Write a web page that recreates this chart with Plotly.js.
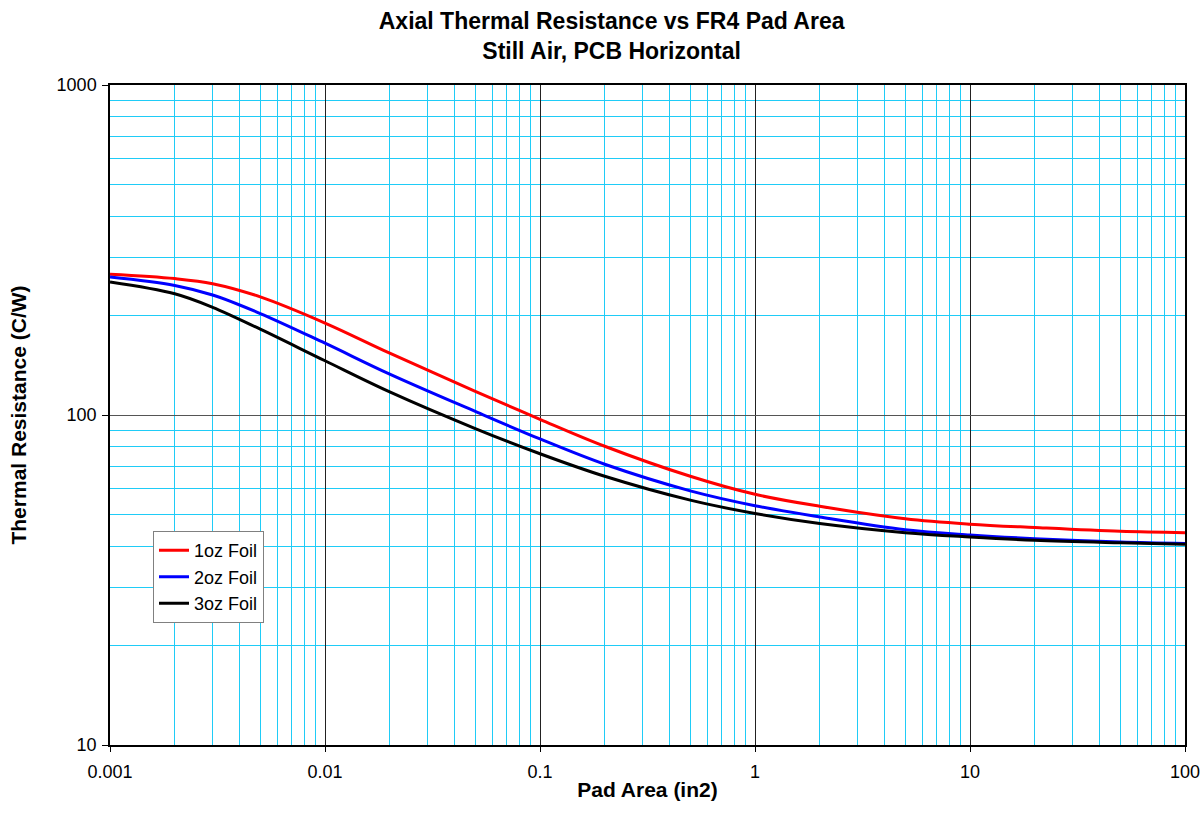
<!DOCTYPE html>
<html>
<head>
<meta charset="utf-8">
<script src="https://cdn.plot.ly/plotly-3.0.1.min.js"></script>
<style>html,body{margin:0;padding:0;background:#fff;}#chart{width:1204px;height:828px;}</style>
</head>
<body>
<div id="chart"></div>
<script>
const padArea = [0.001,0.002,0.003,0.005,0.01,0.02,0.05,0.1,0.2,0.5,1,2,5,10,20,50,100];
const foil1oz = [267,259,250,228,190,154,118,97,80.4,65.2,57.5,52.9,48.5,46.7,45.6,44.4,44.0];
const foil2oz = [262,247,231,203,165,133,102.5,84.6,70.9,58.9,53.1,49.1,44.9,43.3,42.2,41.2,40.8];
const foil3oz = [253,233,212,182,146,117.5,91,76.3,65.2,55.2,50.3,46.9,44.0,42.7,41.7,41.0,40.6];
const seriesNames = ['1oz Foil','2oz Foil','3oz Foil'];
const seriesColors = ['#FF0000','#0000FF','#000000'];
const xTickVals = [0.001,0.01,0.1,1,10,100];
const xTickText = ['0.001','0.01','0.1','1','10','100'];
const yTickVals = [10,100,1000];
const yTickText = ['10','100','1000'];
const gridMantissas = [2,3,4,5,6,7,8,9];

function minorVals(decades) {
  const out = [];
  decades.forEach(d => gridMantissas.forEach(m => out.push(d * m)));
  return out;
}
const xMinor = minorVals(xTickVals.slice(0, -1));
const yMinor = minorVals(yTickVals.slice(0, -1));

const FONT = 'Arial, "Liberation Sans", sans-serif';
const series = [foil1oz, foil2oz, foil3oz];
const traces = series.map((ys, i) => ({
  x: padArea, y: ys, type: 'scatter', mode: 'lines', name: seriesNames[i],
  line: {color: seriesColors[i], width: 3, shape: 'spline', smoothing: 1}
}));

const CYAN = '#1FCCF7';
const layout = {
  width: 1204, height: 828,
  paper_bgcolor: '#fff', plot_bgcolor: '#fff',
  margin: {l: 110, r: 19, t: 85, b: 83},
  font: {family: FONT, color: '#000'},
  title: {
    text: '<b>Axial Thermal Resistance vs FR4 Pad Area<br>Still Air, PCB Horizontal</b>',
    font: {family: FONT, size: 23, color: '#000'},
    x: 0.508, xref: 'container', xanchor: 'center',
    y: 0.965, yref: 'container', yanchor: 'middle'
  },
  xaxis: {
    type: 'log', range: [-3, 2],
    tickmode: 'array', tickvals: xTickVals, ticktext: xTickText,
    tickfont: {family: FONT, size: 18, color: '#000'},
    ticks: 'outside', ticklen: 5, tickcolor: '#000', ticklabelstandoff: 5,
    showgrid: true, gridcolor: '#222', gridwidth: 1,
    minor: {tickmode: 'array', tickvals: xMinor, showgrid: true, gridcolor: CYAN, gridwidth: 1, ticks: ''},
    showline: true, linecolor: '#000', linewidth: 1.5, mirror: true,
    zeroline: false,
    title: {text: '<b>Pad Area (in2)</b>', font: {family: FONT, size: 21, color: '#000'}, standoff: 1}
  },
  yaxis: {
    type: 'log', range: [1, 3],
    tickmode: 'array', tickvals: yTickVals, ticktext: yTickText,
    tickfont: {family: FONT, size: 18, color: '#000'},
    ticks: 'outside', ticklen: 6, tickcolor: '#000', ticklabelstandoff: 2,
    showgrid: true, gridcolor: '#555', gridwidth: 1,
    minor: {tickmode: 'array', tickvals: yMinor, showgrid: true, gridcolor: CYAN, gridwidth: 1, ticks: ''},
    showline: true, linecolor: '#000', linewidth: 1.5, mirror: true,
    zeroline: false,
    title: {text: '<b>Thermal Resistance (C/W)</b>', font: {family: FONT, size: 21, color: '#000'}, standoff: 24}
  },
  legend: {
    x: 0.04, y: 0.324, xanchor: 'left', yanchor: 'top',
    bgcolor: '#fff', bordercolor: '#808080', borderwidth: 1,
    font: {family: FONT, size: 18, color: '#000'}
  },
  showlegend: true
};

Plotly.newPlot('chart', traces, layout, {displayModeBar: false, responsive: false});
</script>
</body>
</html>
